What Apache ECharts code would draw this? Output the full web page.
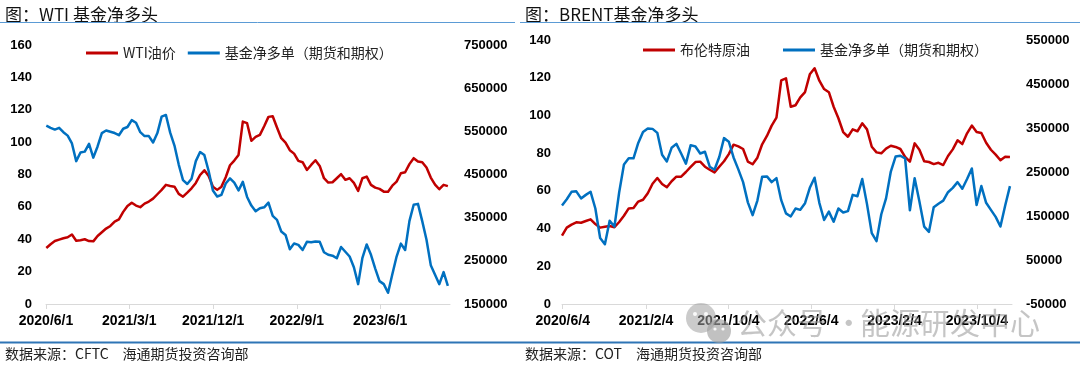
<!DOCTYPE html>
<html><head><meta charset="utf-8">
<script src="https://cdn.jsdelivr.net/npm/echarts@6/dist/echarts.min.js"></script>
<style>html,body{margin:0;padding:0;background:#fff}#c{width:1080px;height:368px}</style>
</head><body><div id="c"></div>
<script>
// ---- data (biweekly observations starting at START_DATE) ----
const START_DATE = '2020/6/2';
const STEP_DAYS = 14;

const wtiPrice = [
 34.6,36.9,38.9,39.8,40.6,41.2,42.9,39.1,39.4,40.0,
 38.9,38.7,42.0,44.3,46.6,48.2,50.9,52.3,56.9,60.6,
 62.6,60.8,59.8,62.0,63.3,65.1,67.8,70.5,73.6,72.9,
 72.5,68.0,66.3,68.8,71.5,74.8,79.7,82.6,79.1,72.5,
 70.5,72.5,78.3,85.7,88.6,92.1,112.7,111.7,100.8,103.2,
 104.5,109.8,115.6,116.0,109.0,102.4,99.7,95.0,92.9,88.4,
 87.6,82.8,85.9,88.8,85.3,77.7,75.0,75.2,77.7,80.2,
 76.7,77.7,74.8,69.9,77.7,78.7,73.6,71.9,71.1,69.4,
 69.4,73.1,75.6,80.8,81.4,86.4,90.1,88.0,87.6,84.3,
 78.1,73.8,70.9,73.6,72.8
];
const wtiNetLong = [
 563000,558000,554000,558000,548000,540000,522000,481000,501000,503000,
 521000,489000,515000,546000,552000,549000,546000,541000,556000,560000,
 576000,570000,548000,539000,539000,524000,546000,584000,588000,547000,
 517000,473000,437000,428000,440000,481000,502000,495000,458000,413000,
 399000,403000,429000,441000,431000,413000,433000,398000,378000,365000,
 372000,374000,385000,354000,345000,318000,310000,277000,290000,287000,
 275000,294000,293000,295000,294000,270000,264000,262000,256000,282000,
 271000,260000,235000,196000,257000,288000,264000,232000,203000,196000,
 176000,219000,260000,290000,275000,342000,380000,382000,342000,299000,
 240000,218000,196000,224000,192000
];
const brentPrice = [
 36.2,40.5,42.1,43.3,43.1,44.0,44.9,42.4,40.5,41.0,
 41.4,40.7,43.5,46.8,50.7,50.9,54.3,55.3,58.7,63.8,
 66.8,63.6,61.9,65.1,67.5,67.5,70.0,72.7,75.3,75.5,
 72.8,71.2,69.8,72.8,75.7,79.5,84.5,83.6,82.2,75.5,
 74.1,77.6,84.7,89.1,94.6,98.8,118.6,119.7,104.6,105.4,
 109.6,112.4,121.8,125.0,118.4,114.0,112.3,104.6,98.5,91.2,
 88.7,92.6,91.6,95.8,92.6,83.4,80.4,79.9,82.4,83.9,
 83.3,82.2,78.0,75.5,85.2,81.8,75.7,75.3,74.2,74.9,
 73.7,78.5,82.0,86.8,84.8,90.5,94.6,91.2,90.7,85.5,
 81.8,79.2,76.2,78.1,78.0
];
const brentNetLong = [
 174000,188000,205000,206000,190000,198000,205000,167000,100000,86000,
 139000,126000,204000,267000,281000,281000,316000,341000,349000,348000,
 339000,289000,274000,305000,314000,292000,269000,311000,308000,292000,
 296000,262000,255000,284000,327000,319000,283000,256000,227000,181000,
 152000,185000,239000,240000,227000,236000,186000,156000,149000,167000,
 164000,179000,214000,237000,180000,141000,160000,137000,167000,158000,
 161000,198000,195000,234000,177000,111000,93000,154000,190000,251000,
 285000,287000,281000,163000,236000,183000,126000,114000,170000,178000,
 185000,204000,214000,227000,212000,234000,258000,175000,218000,180000,
 164000,148000,126000,174000,218000
];

const wtiDateTicks = ['2020/6/1','2021/3/1','2021/12/1','2022/9/1','2023/6/1'];
const brentDateTicks = ['2020/6/4','2021/2/4','2021/10/4','2022/6/4','2023/2/4','2023/10/4'];
const wtiRightTicks = [150000,250000,350000,450000,550000,650000,750000];
const brentRightTicks = [-50000,50000,150000,250000,350000,450000,550000];

// ---- helpers ----
function toTs(s){ const p = s.split('/').map(Number); return Date.UTC(p[0], p[1]-1, p[2]); }
const DAY = 86400000;
const dates = wtiPrice.map((_, i) => toTs(START_DATE) + i * STEP_DAYS * DAY);
const pair = arr => arr.map((v, i) => [dates[i], v]);
const fmtDate = v => { const d = new Date(v); return d.getUTCFullYear() + '/' + (d.getUTCMonth()+1) + '/' + d.getUTCDate(); };

const FONT = '"Liberation Sans","Noto Sans CJK SC",sans-serif';
const CJK = '"Noto Sans CJK SC","Liberation Sans",sans-serif';
const RED = '#c00000', BLUE = '#0070c0';
const NAME_NET = '基金净多单（期货和期权）';

function xAxisCfg(grid, min, max, ticks){
  const tv = ticks.map(toTs);
  return {
    type:'value', gridIndex:grid, min:toTs(min), max:toTs(max), scale:true,
    axisLine:{show:true, onZero:false, lineStyle:{color:'#d9d9d9', width:1}},
    axisTick:{show:true, length:5, lineStyle:{color:'#d9d9d9'}, customValues:tv},
    axisLabel:{color:'#000', fontWeight:'bold', fontSize:14, fontFamily:FONT, margin:10,
               customValues:tv, formatter:fmtDate, hideOverlap:false},
    splitLine:{show:false}
  };
}
function yAxisCfg(grid, pos, min, max, interval, margin, custom){
  const lab = {color:'#000', fontWeight:'bold', fontSize:13, fontFamily:FONT, margin:margin,
               formatter: v => String(v)};
  if (custom) lab.customValues = custom;
  return {
    type:'value', gridIndex:grid, position:pos, min:min, max:max, interval:interval,
    axisLine:{show:false}, axisTick:{show:false}, splitLine:{show:false}, axisLabel:lab
  };
}
function lineSeries(name, color, xi, yi, data){
  return {name:name, type:'line', xAxisIndex:xi, yAxisIndex:yi, data:data,
          showSymbol:false, symbol:'none', smooth:false,
          lineStyle:{color:color, width:2.5, join:'round'}, itemStyle:{color:color}};
}

const chart = echarts.init(document.getElementById('c'), null, {renderer:'canvas'});
const option = {
  animation:false,
  backgroundColor:'#fff',
  textStyle:{fontFamily:FONT},
  grid:[
    {left:46, right:630, top:45, bottom:64},
    {left:562, right:68, top:40, bottom:64}
  ],
  xAxis:[
    xAxisCfg(0, '2020/6/1', '2024/1/16', wtiDateTicks),
    xAxisCfg(1, '2020/6/2', '2024/1/15', brentDateTicks)
  ],
  yAxis:[
    yAxisCfg(0, 'left', 0, 160, 20, 14),
    yAxisCfg(0, 'right', 150000, 750000, 100000, 14, wtiRightTicks),
    yAxisCfg(1, 'left', 0, 140, 20, 11),
    yAxisCfg(1, 'right', -50000, 550000, 100000, 14, brentRightTicks)
  ],
  legend:[
    {left:86, top:46, padding:0, icon:'rect', itemWidth:32, itemHeight:3, itemGap:12,
     data:['WTI油价', NAME_NET], selectedMode:false,
     textStyle:{fontSize:14, color:'#222', fontFamily:CJK}},
    {left:643, top:43, padding:0, icon:'rect', itemWidth:32, itemHeight:3, itemGap:33,
     data:['布伦特原油', NAME_NET], selectedMode:false,
     textStyle:{fontSize:14, color:'#222', fontFamily:CJK}}
  ],
  series:[
    lineSeries('WTI油价', RED, 0, 0, pair(wtiPrice)),
    lineSeries(NAME_NET, BLUE, 0, 1, pair(wtiNetLong)),
    lineSeries('布伦特原油', RED, 1, 2, pair(brentPrice)),
    lineSeries(NAME_NET, BLUE, 1, 3, pair(brentNetLong))
  ],
  graphic:[
    {type:'text', x:5, y:15, style:{text:'图：WTI 基金净多头', fontSize:17, fontFamily:CJK, fill:'#111', verticalAlign:'middle'}},
    {type:'text', x:525, y:15, style:{text:'图：BRENT基金净多头', fontSize:17, fontFamily:CJK, fill:'#111', verticalAlign:'middle'}},
    {type:'line', shape:{x1:0, y1:22.5, x2:515, y2:22.5}, style:{stroke:'#5b9bd5', lineWidth:1}},
    {type:'line', shape:{x1:520, y1:22.5, x2:1080, y2:22.5}, style:{stroke:'#5b9bd5', lineWidth:1}},
    {type:'line', shape:{x1:0, y1:342.5, x2:1080, y2:342.5}, style:{stroke:'#2e75b6', lineWidth:2}},
    {type:'text', x:5, y:354, style:{text:'数据来源：CFTC　海通期货投资咨询部', fontSize:14, fontFamily:CJK, fill:'#222', verticalAlign:'middle'}},
    {type:'text', x:525, y:354, style:{text:'数据来源：COT　海通期货投资咨询部', fontSize:14, fontFamily:CJK, fill:'#222', verticalAlign:'middle'}},
    // watermark
    {type:'circle', z:100, shape:{cx:701, cy:318, r:15}, style:{fill:'rgba(160,160,160,0.55)'}},
    {type:'circle', z:101, shape:{cx:719, cy:331, r:12}, style:{fill:'rgba(160,160,160,0.65)'}},
    {type:'circle', z:102, shape:{cx:695, cy:314, r:2}, style:{fill:'rgba(255,255,255,0.9)'}},
    {type:'circle', z:102, shape:{cx:706, cy:314, r:2}, style:{fill:'rgba(255,255,255,0.9)'}},
    {type:'circle', z:102, shape:{cx:715, cy:329, r:1.6}, style:{fill:'rgba(255,255,255,0.9)'}},
    {type:'circle', z:102, shape:{cx:723, cy:329, r:1.6}, style:{fill:'rgba(255,255,255,0.9)'}},
    {type:'text', z:100, x:737, y:323, style:{text:'公众号 ·', fontSize:30, fontFamily:CJK, fill:'rgba(150,150,150,0.55)', verticalAlign:'middle'}},
    {type:'text', z:100, x:860, y:323, style:{text:'能源研发中心', fontSize:30, fontFamily:CJK, fill:'rgba(150,150,150,0.55)', verticalAlign:'middle'}}
  ]
};
chart.setOption(option);
</script>
</body></html>
